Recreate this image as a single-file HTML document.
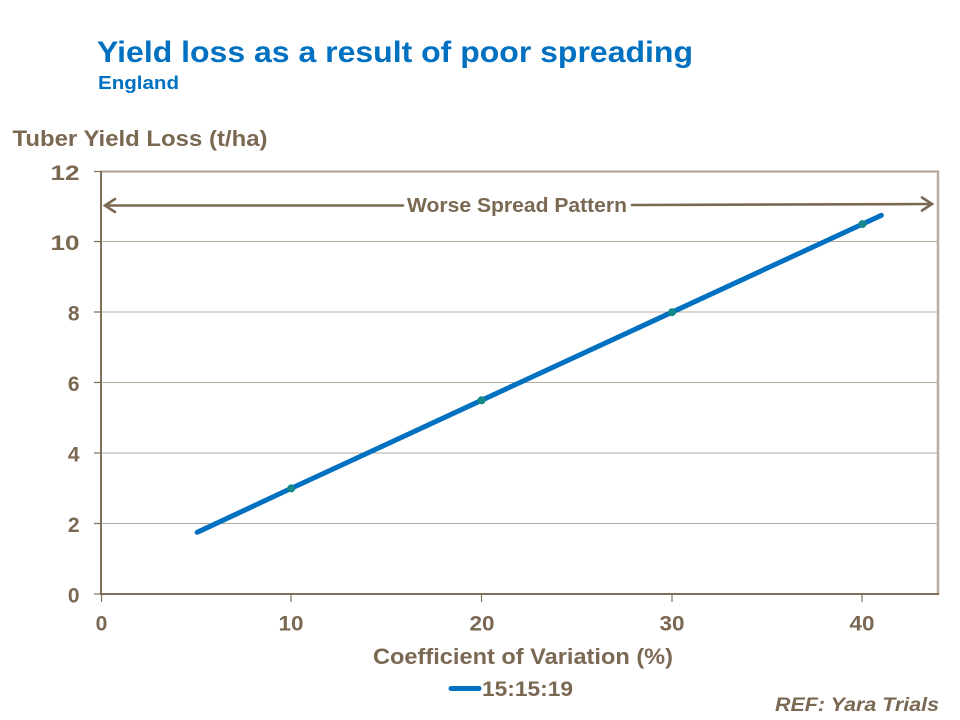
<!DOCTYPE html>
<html>
<head>
<meta charset="utf-8">
<style>
  html,body{margin:0;padding:0;background:#ffffff;}
  svg{display:block;}
  text{font-family:"Liberation Sans", Arial, sans-serif;font-weight:bold;}
</style>
</head>
<body>
<svg width="960" height="720" viewBox="0 0 960 720" xmlns="http://www.w3.org/2000/svg">
  <rect x="0" y="0" width="960" height="720" fill="#ffffff"/>

  <!-- Title -->
  <text x="97" y="62" font-size="29.5" fill="#0070C0" textLength="596" lengthAdjust="spacingAndGlyphs">Yield loss as a result of poor spreading</text>
  <text x="98" y="89" font-size="18.5" fill="#0070C0" textLength="81" lengthAdjust="spacingAndGlyphs">England</text>

  <!-- Y axis title -->
  <text x="12.5" y="146" font-size="22.5" fill="#7A6853" textLength="255" lengthAdjust="spacingAndGlyphs">Tuber Yield Loss (t/ha)</text>

  <!-- Gridlines -->
  <g stroke="#B5AA9C" stroke-width="1">
    <line x1="101" y1="523.5" x2="938" y2="523.5"/>
    <line x1="101" y1="453" x2="938" y2="453"/>
    <line x1="101" y1="382.5" x2="938" y2="382.5"/>
    <line x1="101" y1="312" x2="938" y2="312"/>
    <line x1="101" y1="241.5" x2="938" y2="241.5"/>
  </g>

  <!-- Top and right border -->
  <line x1="101" y1="171.5" x2="939" y2="171.5" stroke="#ADA193" stroke-width="2"/>
  <line x1="938" y1="171" x2="938" y2="595" stroke="#B8AD9F" stroke-width="2.5"/>

  <!-- Axes -->
  <line x1="101" y1="171" x2="101" y2="595" stroke="#7F6E5A" stroke-width="2"/>
  <line x1="100" y1="594" x2="939" y2="594" stroke="#7F6E5A" stroke-width="2"/>

  <!-- Y ticks -->
  <g stroke="#7F6E5A" stroke-width="1.2">
    <line x1="94" y1="171.5" x2="101" y2="171.5"/>
    <line x1="94" y1="241.5" x2="101" y2="241.5"/>
    <line x1="94" y1="312" x2="101" y2="312"/>
    <line x1="94" y1="382.5" x2="101" y2="382.5"/>
    <line x1="94" y1="453" x2="101" y2="453"/>
    <line x1="94" y1="523.5" x2="101" y2="523.5"/>
    <line x1="94" y1="594" x2="101" y2="594"/>
  </g>
  <!-- X ticks -->
  <g stroke="#7F6E5A" stroke-width="1.2">
    <line x1="101.5" y1="594" x2="101.5" y2="602"/>
    <line x1="291" y1="594" x2="291" y2="602"/>
    <line x1="481.5" y1="594" x2="481.5" y2="602"/>
    <line x1="672" y1="594" x2="672" y2="602"/>
    <line x1="862" y1="594" x2="862" y2="602"/>
  </g>

  <!-- Y labels -->
  <g font-size="21" fill="#7A6853" text-anchor="end">
    <text x="79.5" y="180" textLength="29" lengthAdjust="spacingAndGlyphs">12</text>
    <text x="79.5" y="250" textLength="29" lengthAdjust="spacingAndGlyphs">10</text>
    <text x="79.5" y="320.5">8</text>
    <text x="79.5" y="391">6</text>
    <text x="79.5" y="461.5">4</text>
    <text x="79.5" y="532">2</text>
    <text x="79.5" y="602.5">0</text>
  </g>

  <!-- X labels -->
  <g font-size="21" fill="#7A6853" text-anchor="middle">
    <text x="101.5" y="630.5">0</text>
    <text x="291" y="630.5" textLength="25" lengthAdjust="spacingAndGlyphs">10</text>
    <text x="482" y="630.5" textLength="25" lengthAdjust="spacingAndGlyphs">20</text>
    <text x="672" y="630.5" textLength="25" lengthAdjust="spacingAndGlyphs">30</text>
    <text x="862" y="630.5" textLength="25" lengthAdjust="spacingAndGlyphs">40</text>
  </g>

  <!-- X axis title -->
  <text x="373" y="664" font-size="22" fill="#7A6853" textLength="300" lengthAdjust="spacingAndGlyphs">Coefficient of Variation (%)</text>

  <!-- Arrow annotation -->
  <g stroke="#7A6853" stroke-width="2.6" fill="none" stroke-linecap="round">
    <line x1="105" y1="205.5" x2="403" y2="205.5"/>
    <line x1="632" y1="205" x2="932" y2="204"/>
    <polyline points="115,199 105,205.5 115,212"/>
    <polyline points="922,197.5 932,204 922,210.5"/>
  </g>
  <text x="407" y="212" font-size="20.5" fill="#7A6853" textLength="220" lengthAdjust="spacingAndGlyphs">Worse Spread Pattern</text>

  <!-- Series -->
  <polyline points="197.2,532.3 291.2,488.4 481.5,400.3 672,312.2 862.4,224.1 881.4,215.3" fill="none" stroke="#0070C0" stroke-width="5" stroke-linecap="round" stroke-linejoin="round"/>
  <g fill="#16888A">
    <circle cx="291.2" cy="488.4" r="4"/>
    <circle cx="481.5" cy="400.3" r="4"/>
    <circle cx="672" cy="312.2" r="4"/>
    <circle cx="862.4" cy="224.1" r="4"/>
  </g>

  <!-- Legend -->
  <line x1="451" y1="688.5" x2="479" y2="688.5" stroke="#0070C0" stroke-width="5" stroke-linecap="round"/>
  <text x="482" y="696" font-size="21.5" fill="#7A6853" textLength="91" lengthAdjust="spacingAndGlyphs">15:15:19</text>

  <!-- Reference -->
  <text x="775" y="711" font-size="19.5" font-style="italic" fill="#7A6853" textLength="164" lengthAdjust="spacingAndGlyphs">REF: Yara Trials</text>
</svg>
</body>
</html>
